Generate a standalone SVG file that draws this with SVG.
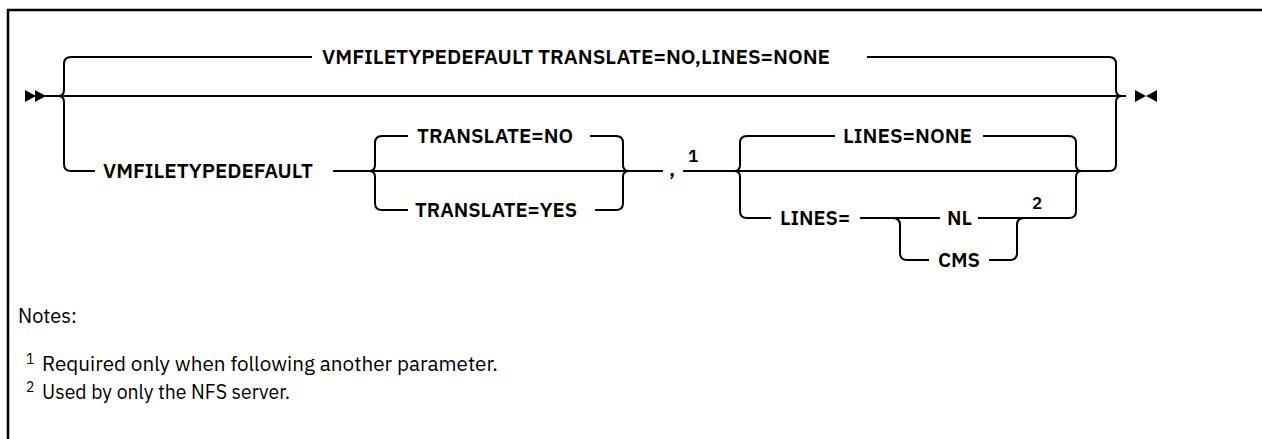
<svg xmlns="http://www.w3.org/2000/svg" width="1262" height="439" viewBox="0 0 1262 439">
<style>
.ln{fill:none;stroke:#000;stroke-width:2}
.t{font-family:"IBM Plex Sans","Noto Sans","Liberation Sans",sans-serif;font-weight:600;font-size:20.5px;fill:#000}
.sup{font-family:"IBM Plex Sans","Noto Sans","Liberation Sans",sans-serif;font-weight:600;font-size:17px;fill:#000}
.n{font-family:"IBM Plex Sans","Noto Sans","Liberation Sans",sans-serif;font-size:20px;fill:#000}
.ns{font-family:"IBM Plex Sans","Noto Sans","Liberation Sans",sans-serif;font-size:14px;fill:#000}
</style>
<rect width="1262" height="439" fill="#fff"/>
<path d="M8,439 V10 H1262" fill="none" stroke="#000" stroke-width="2.5"/>
<g id="connectors">
  <path class="ln" d="M45,96 H1126"/>
  <path class="ln" d="M58,96 Q64,96 64,90 V64 Q64,57 71,57 H312"/>
  <path class="ln" d="M58,96 Q64,96 64,102 V164 Q64,171 71,171 H95"/>
  <path class="ln" d="M867,57 H1109 Q1116,57 1116,64 V90 Q1116,96 1122,96"/>
  <path class="ln" d="M733,171 H1109 Q1116,171 1116,164 V102 Q1116,96 1122,96"/>
  <path class="ln" d="M333,171 H663"/>
  <path class="ln" d="M369,171 Q375,171 375,165 V143 Q375,136 382,136 H408"/>
  <path class="ln" d="M369,171 Q375,171 375,177 V203 Q375,210 382,210 H408"/>
  <path class="ln" d="M590,136 H616 Q623,136 623,143 V165 Q623,171 629,171"/>
  <path class="ln" d="M595,210 H616 Q623,210 623,203 V177 Q623,171 629,171"/>
  <path class="ln" d="M683,171 H733"/>
  <path class="ln" d="M734,171 Q740,171 740,165 V143 Q740,136 747,136 H835"/>
  <path class="ln" d="M734,171 Q740,171 740,177 V211 Q740,218 747,218 H771"/>
  <path class="ln" d="M983,136 H1069 Q1076,136 1076,143 V165 Q1076,171 1082,171"/>
  <path class="ln" d="M978,218 H1069 Q1076,218 1076,211 V177 Q1076,171 1082,171"/>
  <path class="ln" d="M860,218 H940"/>
  <path class="ln" d="M893,218 Q900,218 900,225 V253 Q900,260 907,260 H929"/>
  <path class="ln" d="M989,260 H1010 Q1017,260 1017,253 V225 Q1017,218 1024,218"/>
  <path d="M25,90 L36,96 L25,102 Z M35,90 L46,96 L35,102 Z" fill="#000"/>
  <path d="M1135,90 L1146,96 L1135,102 Z M1157,90 L1146,96 L1157,102 Z" fill="#000"/>
</g>
<g id="n-default-all"><text class="t" x="322" y="64" textLength="508" lengthAdjust="spacingAndGlyphs">VMFILETYPEDEFAULT TRANSLATE=NO,LINES=NONE</text></g>
<g id="n-vmfiletypedefault"><text class="t" x="103" y="178" textLength="210" lengthAdjust="spacingAndGlyphs">VMFILETYPEDEFAULT</text></g>
<g id="n-translate-no"><text class="t" x="417" y="143" textLength="156" lengthAdjust="spacingAndGlyphs">TRANSLATE=NO</text></g>
<g id="n-translate-yes"><text class="t" x="415" y="217" textLength="162" lengthAdjust="spacingAndGlyphs">TRANSLATE=YES</text></g>
<g id="n-comma"><text class="t" x="669" y="176">,</text><text class="sup" x="688" y="162">1</text></g>
<g id="n-lines-none"><text class="t" x="843" y="143" textLength="129" lengthAdjust="spacingAndGlyphs">LINES=NONE</text></g>
<g id="n-lines"><text class="t" x="780" y="225" textLength="70" lengthAdjust="spacingAndGlyphs">LINES=</text></g>
<g id="n-nl"><text class="t" x="947" y="225" textLength="25" lengthAdjust="spacingAndGlyphs">NL</text><text class="sup" x="1032" y="209">2</text></g>
<g id="n-cms"><text class="t" x="938" y="267" textLength="42" lengthAdjust="spacingAndGlyphs">CMS</text></g>
<g id="notes">
  <text class="n" x="18" y="323">Notes:</text>
  <text class="ns" x="26" y="364">1</text>
  <text class="n" x="42" y="371" textLength="456" lengthAdjust="spacingAndGlyphs">Required only when following another parameter.</text>
  <text class="ns" x="26" y="392">2</text>
  <text class="n" x="42" y="399" textLength="248" lengthAdjust="spacingAndGlyphs">Used by only the NFS server.</text>
</g>
</svg>
